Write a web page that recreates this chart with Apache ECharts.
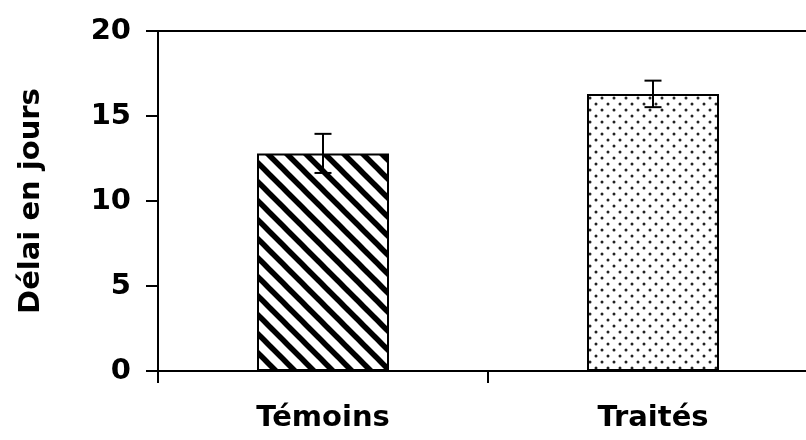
<!DOCTYPE html>
<html>
<head>
<meta charset="utf-8">
<script src="https://cdn.jsdelivr.net/npm/echarts@6/dist/echarts.min.js"></script>
<style>
  html, body { margin: 0; padding: 0; background: #fff; }
  #chart { width: 806px; height: 440px; }
</style>
</head>
<body>
<div id="chart"></div>
<script>
// données
const categories = ["Témoins", "Traités"];
const delais = [12.8, 16.3];
const erreurs = [1.15, 0.78];
const yTicks = [0, 5, 10, 15, 20];

const FONT = "DejaVu Sans";

// motif hachuré (diagonales \)
function stripePattern() {
  const p = 19;
  const c = document.createElement("canvas");
  c.width = p; c.height = p;
  const ctx = c.getContext("2d");
  ctx.fillStyle = "#fff";
  ctx.fillRect(0, 0, p, p);
  ctx.strokeStyle = "#000";
  ctx.lineWidth = 5.5;
  for (let k = -1; k <= 1; k++) {
    ctx.beginPath();
    ctx.moveTo(-p, -p + k * p);
    ctx.lineTo(2 * p, 2 * p + k * p);
    ctx.stroke();
  }
  return c;
}

// motif pointillé
function dotPattern() {
  const w = 12, h = 12;
  const c = document.createElement("canvas");
  c.width = w; c.height = h;
  const ctx = c.getContext("2d");
  ctx.fillStyle = "#fff";
  ctx.fillRect(0, 0, w, h);
  ctx.fillStyle = "#222";
  [[2, 2], [8, 8]].forEach(function (d) {
    ctx.beginPath();
    ctx.arc(d[0], d[1], 1.5, 0, Math.PI * 2);
    ctx.fill();
  });
  return c;
}

const patterns = [stripePattern(), dotPattern()];

const chart = echarts.init(document.getElementById("chart"), null, { renderer: "canvas" });

const labelStyle = {
  color: "#000",
  fontFamily: FONT,
  fontWeight: "bold",
  fontSize: 29,
};

chart.setOption({
  backgroundColor: "#fff",
  animation: false,
  grid: {
    left: 158,
    width: 660,
    top: 31,
    bottom: 69,
    outerBoundsMode: "none",
    containLabel: false,
    show: true,
    borderColor: "#000",
    borderWidth: 2,
  },
  xAxis: {
    type: "category",
    data: categories,
    axisLine: { show: true, lineStyle: { color: "#000", width: 2 } },
    axisTick: { show: true, length: 12, lineStyle: { color: "#000", width: 2 } },
    axisLabel: Object.assign({ margin: 33, interval: 0 }, labelStyle),
    splitLine: { show: false },
  },
  yAxis: {
    type: "value",
    min: yTicks[0],
    max: yTicks[yTicks.length - 1],
    interval: 5,
    name: "Délai en jours",
    nameLocation: "middle",
    nameGap: 112,
    nameRotate: 90,
    nameTextStyle: labelStyle,
    axisLine: { show: true, lineStyle: { color: "#000", width: 2 } },
    axisTick: { show: true, length: 12, lineStyle: { color: "#000", width: 2 } },
    axisLabel: Object.assign({ margin: 27 }, labelStyle),
    splitLine: { show: false },
  },
  series: [
    {
      type: "bar",
      barWidth: "40%",
      data: delais.map(function (v, i) {
        return {
          value: v,
          itemStyle: { color: { image: patterns[i], repeat: "repeat" } },
        };
      }),
      itemStyle: { borderColor: "#000", borderWidth: 2 },
      z: 2,
    },
    {
      type: "custom",
      z: 5,
      encode: { x: 0, y: [1, 2] },
      data: categories.map(function (c, i) {
        return [i, delais[i] - erreurs[i], delais[i] + erreurs[i]];
      }),
      renderItem: function (params, api) {
        const haut = api.coord([api.value(0), api.value(2)]);
        const bas = api.coord([api.value(0), api.value(1)]);
        const hw = 8.5;
        const st = { stroke: "#000", lineWidth: 2 };
        return {
          type: "group",
          children: [
            { type: "line", shape: { x1: haut[0], y1: haut[1], x2: bas[0], y2: bas[1] }, style: st },
            { type: "line", shape: { x1: haut[0] - hw, y1: haut[1], x2: haut[0] + hw, y2: haut[1] }, style: st },
            { type: "line", shape: { x1: bas[0] - hw, y1: bas[1], x2: bas[0] + hw, y2: bas[1] }, style: st },
          ],
        };
      },
    },
  ],
});
</script>
</body>
</html>
